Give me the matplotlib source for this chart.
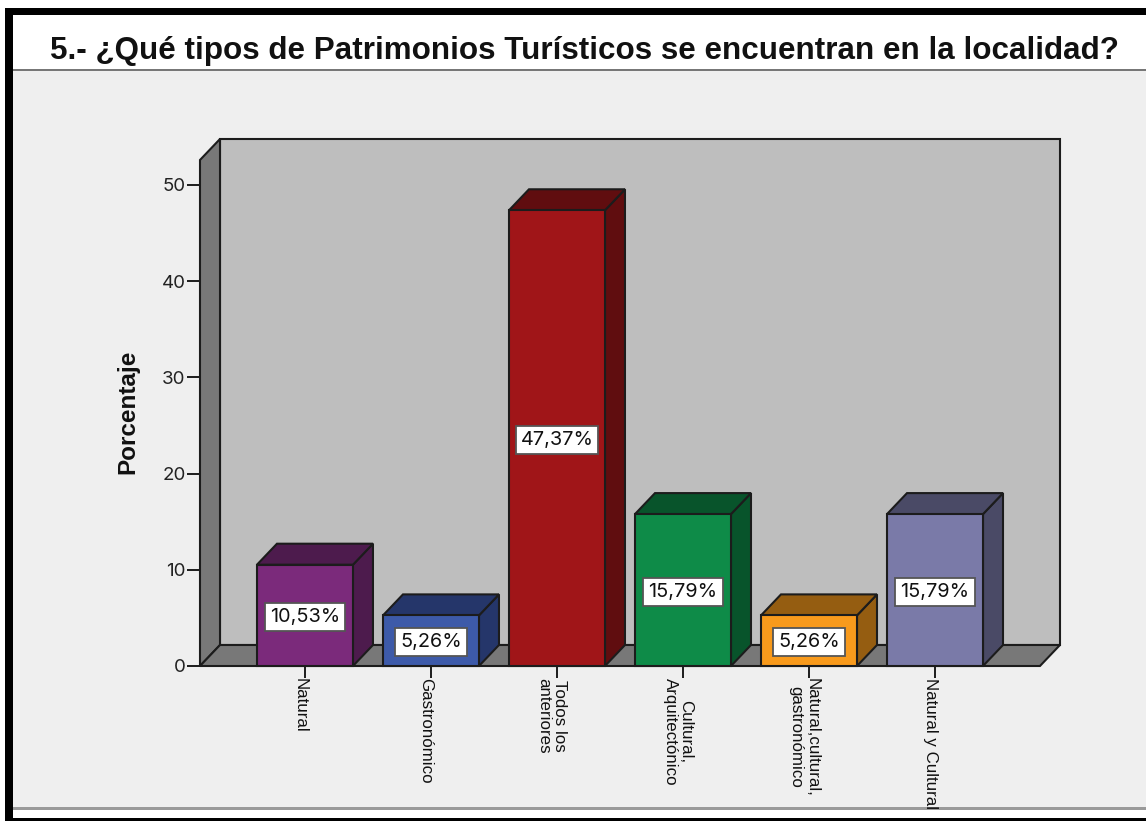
import matplotlib
matplotlib.use('Agg')
import matplotlib.pyplot as plt
from matplotlib.patches import Rectangle
from matplotlib.transforms import Bbox, ScaledTranslation

categorias = ['Natural', 'Gastronómico', 'Todos los\nanteriores', 'Cultural,\nArquitectónico',
              'Natural,cultural,\ngastronómico', 'Natural y Cultural']
porcentajes = [10.53, 5.26, 47.37, 15.79, 5.26, 15.79]
colores = ['#7B2A7B', '#3D5AA9', '#A01518', '#0E8B48', '#F89A1C', '#7A7AA8']
oscuros = ['#4D1B4D', '#25366A', '#600D0F', '#08542B', '#955D11', '#4A4A66']
yticks = [0, 10, 20, 30, 40, 50]
titulo = '5.- ¿Qué tipos de Patrimonios Turísticos se encuentran en la localidad?'

W, H = 1146, 821
plt.rcParams['font.family'] = ['Liberation Sans']
LINEA = '#1C1C1C'

fig = plt.figure(figsize=(W / 100, H / 100), dpi=100, facecolor='white')


def franja(x0, y0, x1, y1, color):
    fig.add_artist(Rectangle((x0 / W, 1 - y1 / H), (x1 - x0) / W, (y1 - y0) / H, zorder=-1,
                             transform=fig.transFigure, facecolor=color, edgecolor='none'))


# marco de la ventana
franja(13, 70, W, 808, '#EFEFEF')
franja(13, 69, W, 71, '#777777')
franja(13, 807, W, 810, '#9A9A9A')
franja(5, 8, W, 15, 'black')
franja(5, 8, 13, H, 'black')
franja(5, 818, W, H, 'black')

fig.text(584 / W, 1 - 51.5 / H, titulo, fontsize=22.55, fontweight='bold',
         ha='center', va='center', color='#111111')

ax = fig.add_axes([200 / W, 1 - 666 / H, 860 / W, 527 / H], facecolor='none')
ax.set_xlim(-0.833, 5.992)
ax.set_ylim(0, 54.78)
for lado in ax.spines.values():
    lado.set_visible(False)

# profundidad 3D en unidades de datos
dx = 20 / 126
dy = 21 / 9.62
x0, x1 = -0.833, 5.833
techo = 52.6

ax.fill([x0 + dx, x1 + dx, x1 + dx, x0 + dx], [dy, dy, techo + dy, techo + dy],
        facecolor='#BEBEBE', edgecolor=LINEA, lw=1.5, clip_on=False, zorder=1)
ax.fill([x0, x0 + dx, x0 + dx, x0], [0, dy, techo + dy, techo],
        facecolor='#787878', edgecolor=LINEA, lw=1.5, clip_on=False, zorder=1)
ax.fill([x0, x1, x1 + dx, x0 + dx], [0, 0, dy, dy],
        facecolor='#787878', edgecolor=LINEA, lw=1.5, clip_on=False, zorder=1)

ancho = 96 / 126
for i, v in enumerate(porcentajes):
    izq, der = i - ancho / 2, i + ancho / 2
    ax.fill([der, der + dx, der + dx, der], [0, dy, v + dy, v],
            facecolor=oscuros[i], edgecolor=LINEA, lw=1.5, clip_on=False, zorder=2)
    ax.fill([izq, der, der + dx, izq + dx], [v, v, v + dy, v + dy],
            facecolor=oscuros[i], edgecolor=LINEA, lw=1.5, clip_on=False, zorder=2)
    ax.bar(i, v, width=ancho, color=colores[i], edgecolor=LINEA, lw=1.5, zorder=3, clip_on=False)
    etiqueta = f'{v:.2f}%'.replace('.', ',')
    ax.annotate(etiqueta, (i, v / 2), xytext=(0, -1.2), textcoords='offset points', fontsize=14.3,
                family='Inter', ha='center', va='center', color='#111111', zorder=4,
                bbox=dict(boxstyle='square,pad=0.25', facecolor='white', edgecolor='#555555', lw=1.3))

ax.set_yticks(yticks)
ax.set_xticks(range(len(categorias)))
ax.tick_params(axis='y', length=9.4, width=1.4, color=LINEA, pad=1, labelsize=13.5, labelcolor='#222222')
ax.tick_params(axis='x', length=8.5, width=1.4, color=LINEA, pad=0)
for t in ax.get_yticklabels():
    t.set_family('Inter')
ax.set_xticklabels(categorias, rotation=-90, ha='center', va='top', fontsize=12.15,
                   linespacing=1.05, color='#111111')
corrimiento = ScaledTranslation(-5 / 100, 0, fig.dpi_scale_trans)
for t in ax.get_xticklabels():
    t.set_transform(t.get_transform() + corrimiento)
    # la ultima etiqueta llega justo a la linea inferior
    t.set_clip_box(Bbox.from_extents(0, H - 810, W, H))
    t.set_clip_on(True)

fig.text(128 / W, 1 - 411.5 / H, 'Porcentaje', rotation=90, fontsize=17.5, fontweight='bold',
         ha='center', va='center', color='#111111')

fig.savefig('out.png', dpi=100, facecolor='white')
